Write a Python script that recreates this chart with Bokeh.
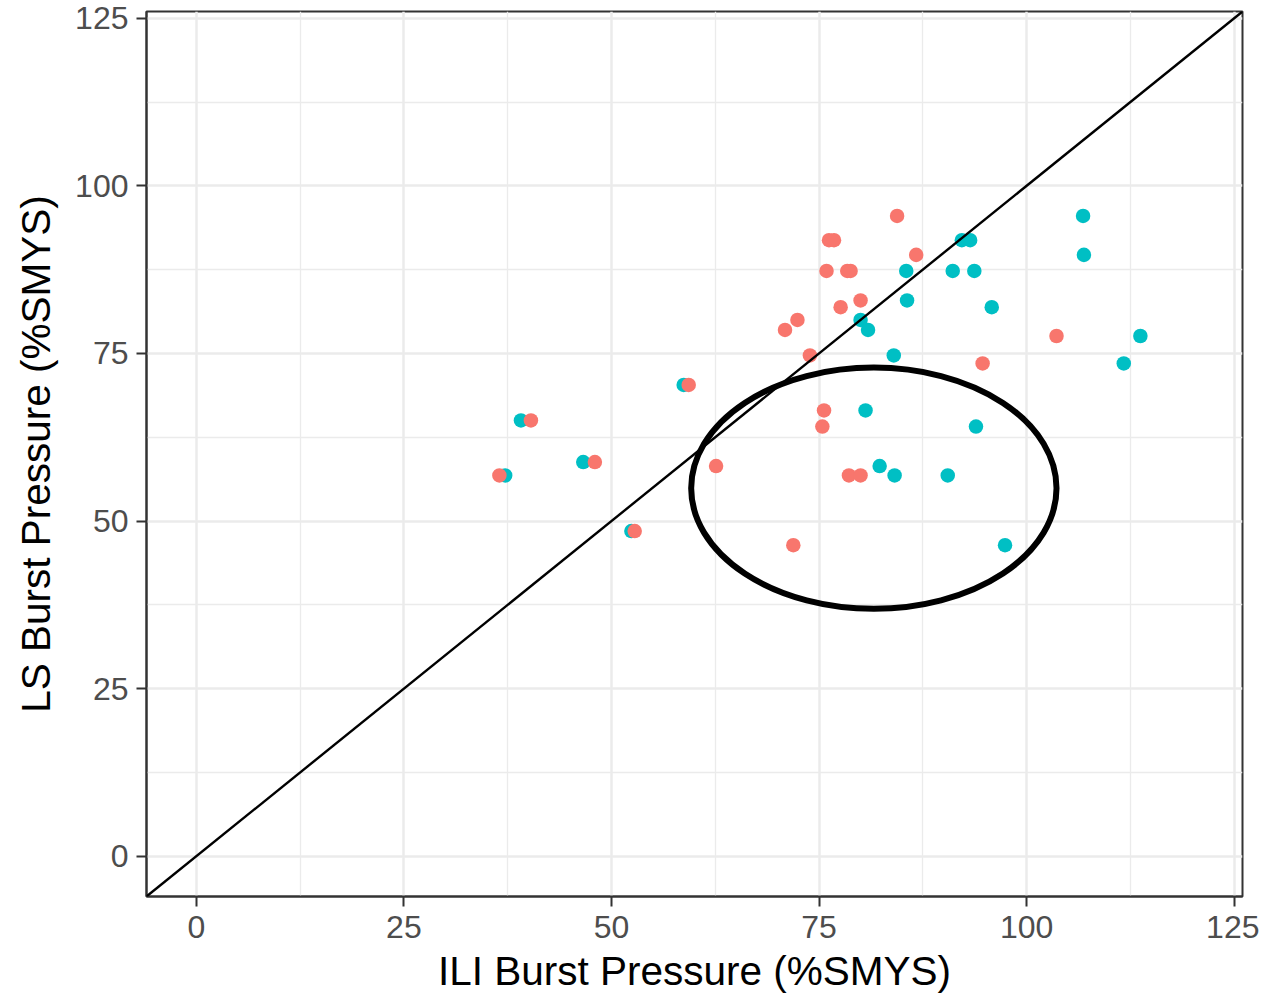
from bokeh.plotting import figure
from bokeh.models import FixedTicker, Range1d, Slope, ColumnDataSource
from bokeh.embed import file_html
from bokeh.resources import INLINE

# LS burst pressure (%SMYS), shared by both ILI series
ls_burst = [95.5, 91.9, 91.9, 89.7, 87.3, 87.3, 87.3, 82.9, 81.9, 80.0, 78.5, 77.6, 74.7,
            73.5, 70.3, 66.5, 65.0, 64.1, 58.8, 58.2, 56.8, 56.8, 56.8, 48.5, 46.4]
# ILI burst pressure (%SMYS), series shown in salmon
ili_salmon = [84.4, 76.2, 76.8, 86.7, 75.9, 78.4, 78.8, 80.0, 77.6, 72.4, 70.9, 103.6, 73.9,
              94.7, 59.3, 75.6, 40.3, 75.4, 48.0, 62.6, 36.5, 78.6, 80.0, 52.8, 71.9]
# ILI burst pressure (%SMYS), series shown in teal
ili_teal = [106.8, 92.2, 93.2, 106.9, 85.5, 91.1, 93.7, 85.6, 95.8, 80.0, 80.9, 113.7, 84.0,
            111.7, 58.7, 80.6, 39.1, 93.9, 46.6, 82.3, 37.2, 84.1, 90.5, 52.4, 97.4]

major_ticks = [0, 25, 50, 75, 100, 125]
minor_ticks = [12.5, 37.5, 62.5, 87.5, 112.5]

FONT = "Liberation Sans"

p = figure(
    output_backend="svg", toolbar_location=None,
    frame_width=1096, frame_height=885,
    min_border_left=146, min_border_right=17, min_border_top=11, min_border_bottom=99,
    x_range=Range1d(-6, 126), y_range=Range1d(-6, 126),
    background_fill_color="white", border_fill_color="white",
)
p.outline_line_color = "#333333"
p.outline_line_width = 2

for ax in (p.xaxis[0], p.yaxis[0]):
    ax.ticker = FixedTicker(ticks=major_ticks, minor_ticks=minor_ticks)
    ax.axis_line_color = "#333333"
    ax.axis_line_width = 2
    ax.major_tick_line_color = "#333333"
    ax.major_tick_line_width = 2
    ax.major_tick_out = 10
    ax.major_tick_in = 0
    ax.minor_tick_line_color = None
    ax.major_label_text_font = FONT
    ax.major_label_text_font_size = "32px"
    ax.major_label_text_color = "#4D4D4D"
    ax.axis_label_text_font = FONT
    ax.axis_label_text_font_size = "40.5px"
    ax.axis_label_text_font_style = "normal"
    ax.axis_label_text_color = "black"

p.xaxis.axis_label = "ILI Burst Pressure (%SMYS)"
p.yaxis.axis_label = "LS Burst Pressure (%SMYS)"
p.xaxis.major_label_standoff = 9
p.xaxis.axis_label_standoff = 7
p.yaxis.major_label_standoff = 8
p.yaxis.axis_label_standoff = 13

for g in (p.xgrid[0], p.ygrid[0]):
    g.ticker = FixedTicker(ticks=major_ticks, minor_ticks=minor_ticks)
    g.grid_line_color = "#EBEBEB"
    g.grid_line_width = 2.5
    g.minor_grid_line_color = "#EBEBEB"
    g.minor_grid_line_width = 1.3

src = ColumnDataSource(dict(ls=ls_burst, salmon=ili_salmon, teal=ili_teal))
p.scatter(x="teal", y="ls", source=src, size=14.5, color="#00BFC4", line_color=None)
p.scatter(x="salmon", y="ls", source=src, size=14.5, color="#F8766D", line_color=None)

# highlighted region (annotation)
p.ellipse(x=[81.6], y=[54.9], width=[44.0], height=[36.0], fill_color=None,
          line_color="black", line_width=6)

p.add_layout(Slope(gradient=1, y_intercept=0, line_color="black", line_width=2.4))

open("out.html", "w").write(file_html(p, INLINE))
